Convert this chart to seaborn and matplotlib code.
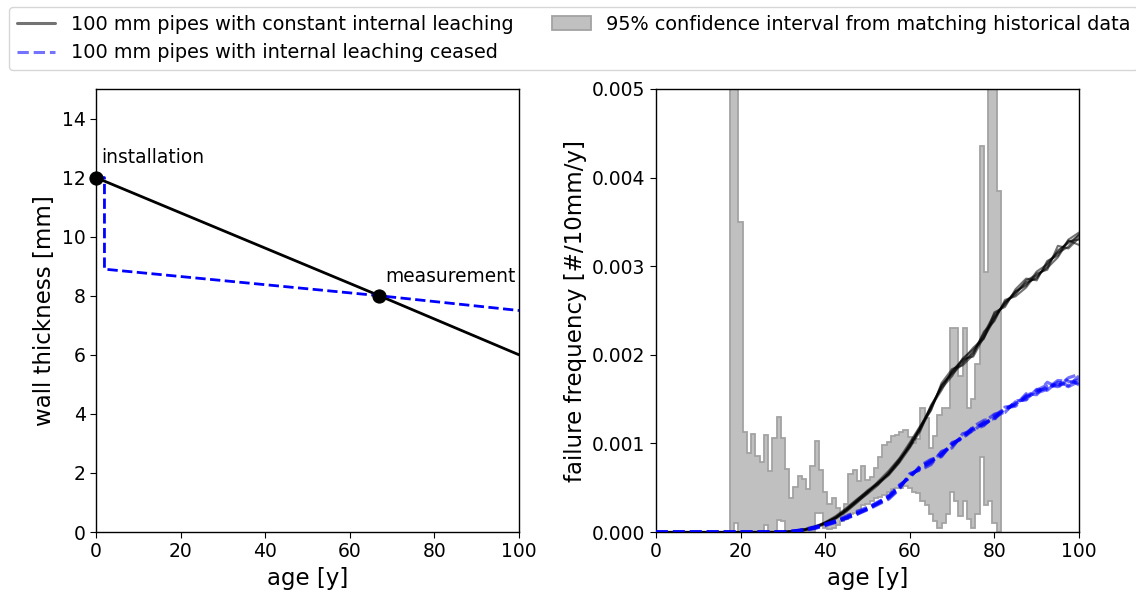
import numpy as np
import pandas as pd
import matplotlib
matplotlib.use("Agg")
import matplotlib.pyplot as plt
import seaborn as sns
from matplotlib.lines import Line2D
from matplotlib.patches import Patch
from matplotlib.ticker import FormatStrFormatter

# ---------------- data ----------------
# left panel: wall thickness [mm] vs age [y]
thick_age_const = [0, 67, 100]
thick_const = [12.0, 8.0, 6.0]
thick_age_ceased = [0, 2, 2, 67, 100]
thick_ceased = [12.0, 12.0, 8.9, 8.0, 7.5]
marker_age = [0, 67]
marker_thick = [12.0, 8.0]

# right panel: historical 95% CI per one-year bin (units of 1e-4 #/10mm/y)
ci_age = list(range(18, 82))
ci_upper = [65, 65, 35, 11.3, 8.9, 11.1, 8.6, 7.9, 11.0, 6.9,
            10.6, 13.0, 10.6, 7.1, 3.8, 5.1, 6.3, 6.0, 4.9, 7.4,
            10.3, 7.0, 4.5, 3.2, 3.8, 2.7, 2.0, 3.2, 6.6, 7.0,
            5.7, 7.5, 5.9, 6.2, 7.2, 8.5, 9.8, 10.2, 10.8, 11.0,
            11.3, 11.5, 10.7, 10.0, 10.5, 14.0, 12.9, 9.5, 10.8, 13.2,
            14.0, 14.0, 23.0, 23.0, 17.6, 23.0, 14.0, 15.0, 19.0, 43.6,
            29.4, 65, 65, 38.5]
ci_lower = [0, 1.0, 0, 0, 0, 0, 0, 0, 0.8, 0,
            0, 1.4, 1.2, 0, 0, 0, 0, 0, 0, 0,
            2.1, 2.1, 0.5, 0.3, 0.5, 0.8, 1.2, 1.5, 2.0, 2.2,
            2.5, 3.0, 3.2, 3.5, 3.8, 4.0, 4.2, 4.5, 4.8, 5.0,
            5.0, 5.2, 5.0, 4.5, 4.4, 3.5, 3.0, 2.0, 1.2, 0.5,
            1.0, 2.0, 4.5, 3.5, 1.8, 3.5, 1.5, 0.5, 2.0, 8.5,
            3.0, 3.5, 1.0, 0]

# simulated failure frequencies (units of 1e-4 #/10mm/y)
sim_age = [0, 30, 32.5, 35, 37.5, 40, 42.5, 45, 47.5, 50, 52.5, 55, 57.5, 60, 62.5,
           65, 67.5, 70, 72.5, 75, 77.5, 80, 82.5, 85, 87.5, 90, 92.5, 95, 97.5, 100]
black_1 = [0, 0, 0.1, 0.2, 0.5, 1.0, 1.6, 2.5, 3.5, 4.5, 5.5, 6.6, 8.0, 9.8, 11.7, 14.0, 16.5, 18.0, 19.2, 20.2, 22.2, 24.3, 25.8, 27.0, 28.0, 28.8, 30.0, 31.8, 32.6, 33.5]
black_2 = [0, 0, 0.1, 0.3, 0.6, 1.1, 1.8, 2.7, 3.7, 4.6, 5.4, 6.4, 7.8, 9.5, 11.4, 14.3, 16.2, 17.6, 19.6, 20.6, 21.8, 24.8, 25.4, 27.4, 28.6, 28.4, 30.6, 31.2, 33.0, 33.8]
black_3 = [0, 0, 0.0, 0.2, 0.4, 0.9, 1.5, 2.3, 3.3, 4.4, 5.7, 6.9, 8.3, 10.1, 12.0, 13.7, 16.8, 18.4, 18.8, 20.0, 22.6, 23.8, 26.2, 26.6, 27.6, 29.2, 29.6, 32.3, 32.0, 33.2]
black_4 = [0, 0, 0.1, 0.3, 0.5, 1.0, 1.7, 2.6, 3.6, 4.7, 5.6, 6.5, 7.9, 9.9, 11.9, 14.1, 16.0, 18.2, 19.4, 20.8, 21.9, 24.0, 26.0, 26.8, 28.4, 29.0, 29.8, 31.0, 32.9, 32.4]
black_5 = [0, 0, 0.1, 0.2, 0.5, 1.1, 1.6, 2.4, 3.4, 4.3, 5.3, 6.7, 8.2, 9.7, 11.6, 13.8, 16.6, 17.8, 19.0, 20.4, 22.4, 24.6, 25.6, 27.2, 27.8, 29.4, 30.2, 31.5, 32.2, 33.6]
black_6 = [0, 0, 0.1, 0.3, 0.6, 1.0, 1.6, 2.5, 3.5, 4.5, 5.5, 6.6, 8.1, 9.6, 11.8, 14.2, 16.4, 18.1, 19.5, 19.8, 22.0, 24.2, 25.9, 27.1, 28.2, 28.6, 30.4, 31.6, 32.8, 33.0]
blue_1 = [0, 0, 0.1, 0.2, 0.5, 0.8, 1.2, 1.6, 2.1, 2.6, 3.2, 3.9, 5.0, 6.4, 7.2, 7.9, 8.8, 9.8, 10.8, 11.7, 12.2, 13.0, 13.8, 14.5, 15.2, 15.8, 16.4, 16.6, 16.8, 17.2]
blue_2 = [0, 0, 0.1, 0.3, 0.6, 0.9, 1.3, 1.8, 2.3, 2.8, 3.3, 4.1, 5.3, 6.1, 7.5, 8.2, 8.5, 10.1, 10.5, 11.9, 12.6, 12.8, 14.1, 14.3, 15.6, 15.5, 16.9, 16.3, 17.3, 16.6]
blue_3 = [0, 0, 0.0, 0.2, 0.4, 0.7, 1.1, 1.5, 2.0, 2.5, 3.1, 3.7, 4.8, 6.6, 7.0, 7.6, 9.1, 9.5, 11.1, 11.4, 12.4, 13.3, 13.5, 14.8, 14.9, 16.1, 16.0, 17.0, 16.5, 17.6]
blue_4 = [0, 0, 0.1, 0.2, 0.5, 0.8, 1.2, 1.7, 2.2, 2.7, 3.4, 4.0, 5.1, 6.3, 7.3, 8.1, 8.7, 10.0, 10.6, 11.5, 12.0, 13.2, 13.9, 14.4, 15.4, 15.9, 16.2, 17.1, 17.0, 16.8]
blue_5 = [0, 0, 0.1, 0.3, 0.5, 0.9, 1.2, 1.6, 2.1, 2.6, 3.2, 3.8, 4.9, 6.5, 7.1, 7.8, 9.0, 9.7, 10.9, 11.8, 12.1, 12.9, 13.6, 14.7, 15.0, 16.0, 16.6, 16.4, 17.4, 17.8]
blue_6 = [0, 0, 0.1, 0.2, 0.4, 0.8, 1.1, 1.6, 2.0, 2.6, 3.3, 4.0, 5.2, 6.2, 7.4, 8.0, 8.6, 9.9, 10.7, 11.6, 12.3, 12.7, 14.0, 14.2, 15.3, 15.7, 16.1, 16.9, 16.4, 17.0]

label_const = "100 mm pipes with constant internal leaching"
label_ceased = "100 mm pipes with internal leaching ceased"
label_ci = "95% confidence interval from matching historical data"

# ---------------- style ----------------
sns.set_style("ticks")
plt.rcParams['font.family'] = ['DejaVu Sans']
plt.rcParams.update({
    'axes.edgecolor': 'black', 'axes.linewidth': 1.0,
    'xtick.color': 'black', 'ytick.color': 'black',
    'xtick.direction': 'out', 'ytick.direction': 'out',
    'xtick.major.size': 4, 'ytick.major.size': 4,
    'text.color': 'black', 'axes.labelcolor': 'black',
})

SCALE = 1e-4
def long_df(series_list):
    rows = []
    for i, s in enumerate(series_list):
        for a, v in zip(sim_age, s):
            rows.append({'age': a, 'freq': v * SCALE, 'run': i})
    return pd.DataFrame(rows)

df_black = long_df([black_1, black_2, black_3, black_4, black_5, black_6])
df_blue = long_df([blue_1, blue_2, blue_3, blue_4, blue_5, blue_6])

fig = plt.figure(figsize=(11.36, 5.94), dpi=100)
ax1 = fig.add_axes([96/1136, 62/594, 423/1136, 443/594])
ax2 = fig.add_axes([656/1136, 62/594, 423/1136, 443/594])

# ---- left panel ----
sns.lineplot(x=thick_age_const, y=thick_const, sort=False, estimator=None,
             color='black', lw=2, ax=ax1)
sns.lineplot(x=thick_age_ceased, y=thick_ceased, sort=False, estimator=None,
             color='blue', lw=2, ax=ax1)
ax1.lines[-1].set_linestyle('--')
sns.scatterplot(x=marker_age, y=marker_thick, color='black', s=90, zorder=5,
                clip_on=False, edgecolor='black', ax=ax1)
ax1.text(1.2, 12.5, "installation", fontsize=13.4, va='baseline')
ax1.text(68.3, 8.47, "measurement", fontsize=13.4, va='baseline')
ax1.set_xlim(0, 100)
ax1.set_ylim(0, 15)
ax1.set_yticks(range(0, 15, 2))
ax1.set_xticks(range(0, 101, 20))
ax1.set_xlabel("age [y]", fontsize=16.5)
ax1.set_ylabel("wall thickness [mm]", fontsize=16.5)
ax1.tick_params(labelsize=13.5)

# ---- right panel ----
ci_age_arr = np.array(ci_age, dtype=float)
edges = np.append(ci_age_arr - 0.5, ci_age_arr[-1] + 0.5)
ax2.stairs(np.array(ci_upper) * SCALE, edges, baseline=np.array(ci_lower) * SCALE,
           fill=True, facecolor='#c0c0c0', edgecolor='#a3a3a3', linewidth=1.3, zorder=1)
sns.lineplot(data=df_black, x='age', y='freq', units='run', estimator=None,
             color='black', alpha=0.55, lw=1.5, ax=ax2, zorder=3)
n_before = len(ax2.lines)
sns.lineplot(data=df_blue, x='age', y='freq', units='run', estimator=None,
             color='blue', alpha=0.55, lw=2.3, ax=ax2, zorder=3)
for ln in ax2.lines[n_before:]:
    ln.set_linestyle('--')
ax2.set_xlim(0, 100)
ax2.set_ylim(0, 0.005)
ax2.set_xticks(range(0, 101, 20))
ax2.set_yticks(np.arange(0, 0.0051, 0.001))
ax2.yaxis.set_major_formatter(FormatStrFormatter('%.3f'))
ax2.set_xlabel("age [y]", fontsize=16.5)
ax2.set_ylabel("failure frequency [#/10mm/y]", fontsize=16.5)
ax2.tick_params(labelsize=13.5)

# ---- legend ----
handles = [Line2D([], [], color='black', alpha=0.55, lw=2.2),
           Line2D([], [], color='blue', alpha=0.55, lw=2.2, ls='--'),
           Patch(facecolor='#c0c0c0', edgecolor='#a3a3a3', linewidth=1.3)]
fig.legend(handles, [label_const, label_ceased, label_ci], ncol=2,
           loc='upper left', bbox_to_anchor=(9/1136, 1 - 7/594),
           fontsize=13.9, frameon=True, handlelength=2.0, columnspacing=2.0,
           borderaxespad=0.0)

fig.savefig("out.png", dpi=100)
